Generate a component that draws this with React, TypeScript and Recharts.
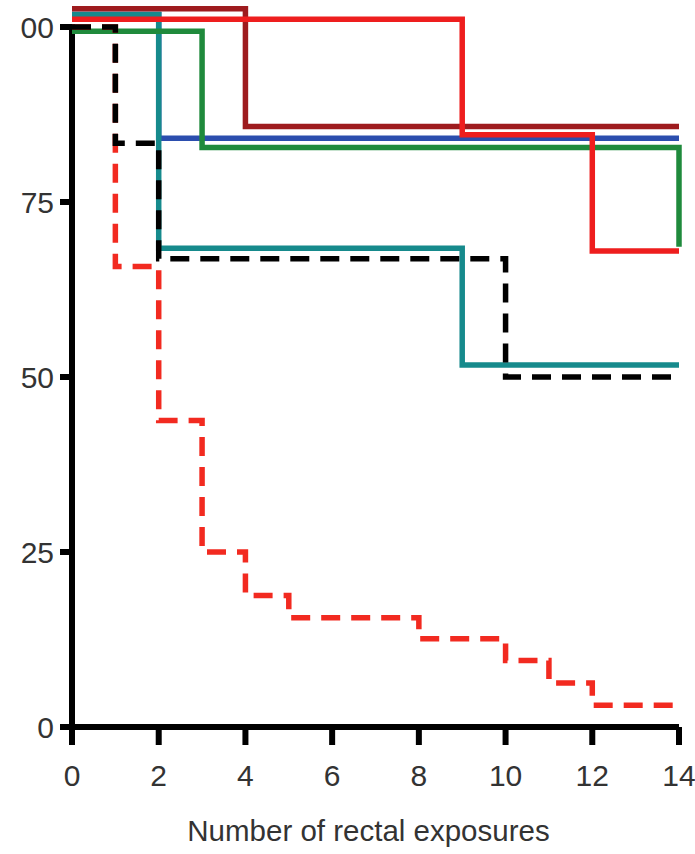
import React from 'react';
import { LineChart, Line, XAxis, YAxis, ReferenceLine } from 'recharts';

const xTicks = [0, 2, 4, 6, 8, 10, 12, 14];
const yTicks = [0, 25, 50, 75, 100];

const darkRedX = [0, 4, 14];
const darkRedY = [102.6, 85.8, 85.8];
const redX = [0, 9, 12, 14];
const redY = [101.1, 84.6, 68.0, 68.0];
const blueX = [0, 2, 14];
const blueY = [101.8, 84.1, 84.1];
const tealX = [0, 2, 9, 14];
const tealY = [101.8, 68.4, 51.7, 51.7];
const greenX = [0, 3, 14];
const greenY = [99.4, 82.8, 68.6];
const blackX = [0, 1, 2, 10, 14];
const blackY = [100, 83.4, 66.9, 50.0, 50.0];
const redDashX = [0, 1, 2, 3, 4, 5, 8, 10, 11, 12, 14];
const redDashY = [100, 65.8, 43.8, 25.0, 18.8, 15.6, 12.6, 9.5, 6.3, 3.1, 3.1];

const toData = (xs: number[], ys: number[]) => xs.map((x, i) => ({ x, y: ys[i] }));

const FONT = "'Liberation Sans', Arial, sans-serif";

const series = [
  { name: 'blue', data: toData(blueX, blueY), color: '#2b4eae', dash: undefined },
  { name: 'teal', data: toData(tealX, tealY), color: '#168a8c', dash: undefined },
  { name: 'green', data: toData(greenX, greenY), color: '#1f8a3c', dash: undefined },
  { name: 'darkred', data: toData(darkRedX, darkRedY), color: '#9e1b1e', dash: undefined },
  { name: 'red', data: toData(redX, redY), color: '#ee1e1e', dash: undefined },
  { name: 'reddash', data: toData(redDashX, redDashY), color: '#f22a20', dash: '19 11' },
  { name: 'blackdash', data: toData(blackX, blackY), color: '#000000', dash: '19 11' },
];

export default function App() {
  return (
    <div
      style={{
        position: 'absolute',
        left: 21,
        top: 0,
        width: 674,
        height: 854,
        overflow: 'hidden',
        background: '#ffffff',
      }}
    >
      <LineChart width={674} height={854} margin={{ top: 6, right: 16, bottom: 0, left: 0 }}>
        <XAxis
          type="number"
          dataKey="x"
          domain={[0, 14]}
          ticks={xTicks}
          allowDuplicatedCategory={false}
          height={127}
          tickSize={18}
          tickMargin={20}
          axisLine={{ stroke: '#000', strokeWidth: 6 }}
          tickLine={{ stroke: '#000', strokeWidth: 6 }}
          tick={{ fill: '#333', fontSize: 30, fontFamily: FONT }}
          label={{
            value: 'Number of rectal exposures',
            position: 'insideBottom',
            offset: 13,
            dx: -7,
            fill: '#333',
            fontSize: 29.5,
            fontFamily: FONT,
          }}
        />
        <YAxis
          type="number"
          domain={[0, 103]}
          ticks={yTicks}
          width={51}
          tickSize={12}
          tickMargin={6}
          axisLine={false}
          tickLine={{ stroke: '#000', strokeWidth: 6 }}
          tick={{ fill: '#333', fontSize: 30, fontFamily: FONT }}
        />
        <ReferenceLine
          segment={[{ x: 0, y: 0 }, { x: 0, y: 100 }]}
          stroke="#000"
          strokeWidth={6}
          strokeLinecap="square"
        />
        {series.map((s) => (
          <Line
            key={s.name}
            data={s.data}
            dataKey="y"
            type="stepAfter"
            stroke={s.color}
            strokeWidth={5.5}
            strokeDasharray={s.dash}
            dot={false}
            activeDot={false}
            isAnimationActive={false}
          />
        ))}
      </LineChart>
    </div>
  );
}
